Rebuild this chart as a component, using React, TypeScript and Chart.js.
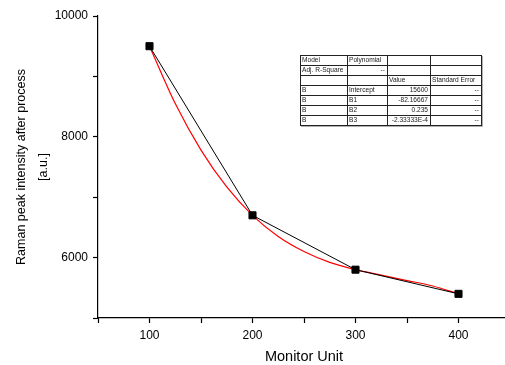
import { useEffect, useRef } from 'react';
import { Chart, registerables } from 'chart.js';

Chart.register(...registerables);

// ---- data ----
// measured points (black squares)
const monitorUnits = [100, 200, 300, 400];
const ramanIntensity = [9500, 6700, 5800, 5400];
// red fitted curve
const fitUnits = [100, 125, 150, 175, 200, 225, 250, 275, 300, 325, 350, 375, 400];
const fitIntensity = [9500, 8550, 7780, 7170, 6700, 6350, 6100, 5920, 5800, 5710, 5620, 5530, 5400];
const xRange = [50, 450];
const yRange = [5000, 10000];
const xLabelledTicks = [100, 200, 300, 400];
const yLabelledTicks = [6000, 8000, 10000];
const xTitle = 'Monitor Unit';
const yTitle = ['Raman peak intensity after process', '[a.u.]'];

const tableRows: string[][] = [
  ['Model', 'Polynomial', '', ''],
  ['Adj. R-Square', '--', '', ''],
  ['', '', 'Value', 'Standard Error'],
  ['B', 'Intercept', '15600', '--'],
  ['B', 'B1', '-82.16667', '--'],
  ['B', 'B2', '0.235', '--'],
  ['B', 'B3', '-2.33333E-4', '--'],
];

const FONT = '"Liberation Sans", Arial, Helvetica, sans-serif';

const tablePlugin = {
  id: 'fitTable',
  afterDraw(chart: any) {
    const ctx = chart.ctx as CanvasRenderingContext2D;
    const colX = [300, 347, 387, 430, 481];
    const top = 55;
    const rowH = 10;
    const bottom = top + rowH * tableRows.length;
    ctx.save();
    ctx.fillStyle = '#ffffff';
    ctx.fillRect(colX[0], top, colX[4] - colX[0], bottom - top);
    // soft shadow on right / bottom
    ctx.strokeStyle = '#b0b0b0';
    ctx.lineWidth = 1;
    ctx.beginPath();
    ctx.moveTo(colX[0] + 1, bottom + 1.5);
    ctx.lineTo(colX[4] + 1.5, bottom + 1.5);
    ctx.lineTo(colX[4] + 1.5, top + 1);
    ctx.stroke();
    ctx.strokeStyle = '#222';
    ctx.beginPath();
    for (let r = 0; r <= tableRows.length; r++) {
      const y = Math.round(top + r * rowH) + 0.5;
      ctx.moveTo(colX[0], y);
      ctx.lineTo(colX[4] + 1, y);
    }
    for (const cx of colX) {
      ctx.moveTo(cx + 0.5, top);
      ctx.lineTo(cx + 0.5, Math.round(bottom) + 0.5);
    }
    ctx.stroke();
    ctx.font = `6.6px ${FONT}`;
    ctx.fillStyle = '#222';
    ctx.textBaseline = 'middle';
    tableRows.forEach((row, r) => {
      const cy = top + r * rowH + rowH / 2 + 0.5;
      row.forEach((txt, c) => {
        if (!txt) return;
        const right = /^[-\d.E]+$/.test(txt);
        if (right) {
          ctx.textAlign = 'right';
          ctx.fillText(txt, colX[c + 1] - 2, cy);
        } else {
          ctx.textAlign = 'left';
          ctx.fillText(txt, colX[c] + 2, cy);
        }
      });
    });
    ctx.restore();
  },
};

export default function App() {
  const ref = useRef<HTMLCanvasElement | null>(null);
  useEffect(() => {
    if (!ref.current) return;
    const pts = monitorUnits.map((x, i) => ({ x, y: ramanIntensity[i] }));
    const fitPts = fitUnits.map((x, i) => ({ x, y: fitIntensity[i] }));
    const chart = new Chart(ref.current, {
      type: 'line',
      data: {
        datasets: [
          {
            label: 'Polynomial fit',
            data: fitPts,
            borderColor: '#ff0000',
            borderWidth: 1.2,
            pointRadius: 0,
            cubicInterpolationMode: 'monotone',
            fill: false,
            order: 2,
          },
          {
            label: 'B',
            data: pts,
            borderColor: '#000000',
            borderWidth: 1,
            pointStyle: 'rect',
            pointRadius: 5,
            pointBackgroundColor: '#000000',
            pointBorderColor: '#000000',
            pointBorderWidth: 1,
            tension: 0,
            fill: false,
            order: 1,
          },
        ],
      },
      options: {
        animation: false,
        responsive: false,
        devicePixelRatio: 1,
        layout: { padding: { top: 16, right: 3, left: 0, bottom: 0 } },
        plugins: { legend: { display: false }, tooltip: { enabled: false } },
        scales: {
          x: {
            type: 'linear',
            min: xRange[0],
            max: xRange[1],
            afterFit: (s: any) => {
              s.height = 47;
            },
            border: { display: true, color: '#000', width: 1.2 },
            grid: { drawOnChartArea: false, drawTicks: true, tickLength: 5, tickColor: '#000', tickWidth: 1.2 },
            ticks: {
              stepSize: 50,
              autoSkip: false,
              maxRotation: 0,
              color: '#000',
              padding: 5,
              font: { family: FONT, size: 12 },
              callback: (v: any) => (xLabelledTicks.includes(Number(v)) ? String(v) : ''),
            },
            title: {
              display: true,
              text: xTitle,
              color: '#000',
              font: { family: FONT, size: 14.5, lineHeight: 1.15 },
              padding: { top: 0, bottom: 0 },
            },
          },
          y: {
            type: 'linear',
            min: yRange[0],
            max: yRange[1],
            afterFit: (s: any) => {
              s.width = 98;
            },
            border: { display: true, color: '#000', width: 1.2 },
            grid: { drawOnChartArea: false, drawTicks: true, tickLength: 5, tickColor: '#000', tickWidth: 1.2 },
            ticks: {
              stepSize: 1000,
              autoSkip: false,
              color: '#000',
              padding: 5,
              font: { family: FONT, size: 12 },
              callback: (v: any) => (yLabelledTicks.includes(Number(v)) ? String(v) : ''),
            },
            title: {
              display: true,
              text: yTitle,
              color: '#000',
              font: { family: FONT, size: 12.5, lineHeight: 1.72 },
              padding: { top: 11, bottom: 0 },
            },
          },
        },
      },
      plugins: [tablePlugin],
    });
    return () => chart.destroy();
  }, []);
  return (
    <div style={{ position: 'absolute', left: 0, top: 0, width: 505, height: 365, overflow: 'hidden', background: '#fff' }}>
      <canvas ref={ref} width={516} height={365} style={{ display: 'block', width: 516, height: 365 }} />
    </div>
  );
}
